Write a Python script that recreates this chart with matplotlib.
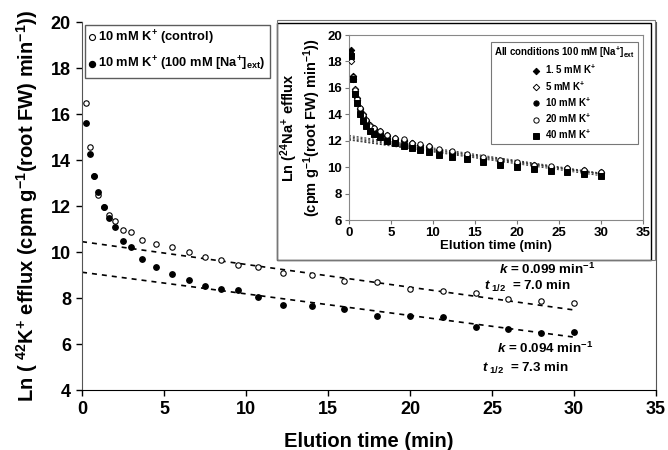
import numpy as np
import matplotlib
matplotlib.use('Agg')
import matplotlib.pyplot as plt
from matplotlib.patches import Rectangle

plt.rcParams['font.family'] = ['Liberation Sans', 'DejaVu Sans']
plt.rcParams['font.weight'] = 'bold'
plt.rcParams['mathtext.fontset'] = 'custom'
plt.rcParams['mathtext.rm'] = 'Liberation Sans:bold'
plt.rcParams['mathtext.bf'] = 'Liberation Sans:bold'
plt.rcParams['mathtext.it'] = 'Liberation Sans:italic:bold'
plt.rcParams['mathtext.default'] = 'rm'

# 数据 (主图)
time = [0.25, 0.5, 0.75, 1.0, 1.33, 1.67, 2.0, 2.5, 3.0, 3.67, 4.5, 5.5, 6.5, 7.5,
        8.5, 9.5, 10.75, 12.25, 14, 16, 18, 20, 22, 24, 26, 28, 30]
control = [16.5, 14.55, 13.3, 12.46, 11.95, 11.59, 11.34, 10.96, 10.87, 10.54, 10.35,
           10.2, 10.02, 9.8, 9.66, 9.45, 9.33, 9.07, 9.0, 8.75, 8.68, 8.39, 8.29, 8.2,
           7.95, 7.88, 7.78]
na_ext = [15.63, 14.28, 13.29, 12.62, 11.95, 11.49, 11.08, 10.47, 10.2, 9.7, 9.33,
          9.04, 8.8, 8.51, 8.39, 8.36, 8.03, 7.69, 7.66, 7.52, 7.23, 7.2, 7.16, 6.72,
          6.67, 6.46, 6.53]
fit_x = [0, 30]
control_fit = [10.45, 7.48]
na_fit = [9.12, 6.30]

# 数据 (插图)
inset_labels = ['1. 5 mM K$^{+}$', '5 mM K$^{+}$', '10 mM K$^{+}$', '20 mM K$^{+}$', '40 mM K$^{+}$']
k1_5 = [18.9, 16.9, 15.8, 15.1, 14.4, 13.9, 13.5, 13.1, 12.85, 12.6, 12.35, 12.1, 12.0,
        11.8, 11.7, 11.6, 11.3, 11.15, 10.9, 10.65, 10.45, 10.25, 10.1, 9.95, 9.85, 9.7, 9.55]
k5 = [18.05, 16.7, 15.9, 15.2, 14.5, 14.0, 13.6, 13.2, 12.95, 12.7, 12.4, 12.2, 12.05,
      11.85, 11.7, 11.5, 11.3, 11.1, 10.95, 10.7, 10.5, 10.3, 10.15, 10.0, 9.9, 9.75, 9.6]
k10 = [18.6, 16.8, 15.6, 15.0, 14.3, 13.8, 13.4, 13.0, 12.8, 12.55, 12.3, 12.1, 11.9,
       11.7, 11.55, 11.45, 11.2, 11.0, 10.8, 10.6, 10.35, 10.2, 10.05, 9.9, 9.75, 9.6, 9.5]
k20 = [18.5, 16.85, 15.85, 15.15, 14.45, 13.95, 13.55, 13.15, 12.95, 12.7, 12.45, 12.2,
       12.1, 11.85, 11.75, 11.6, 11.4, 11.2, 11.0, 10.75, 10.55, 10.4, 10.2, 10.05, 9.95,
       9.75, 9.6]
k40 = [18.4, 16.7, 15.5, 14.85, 14.0, 13.5, 13.1, 12.7, 12.5, 12.25, 12.0, 11.8, 11.6,
       11.45, 11.3, 11.15, 10.95, 10.75, 10.6, 10.4, 10.2, 10.0, 9.85, 9.7, 9.6, 9.45, 9.35]
inset_fit_start = [12.4, 12.3, 12.2, 12.1, 12.05]
inset_fit_end = [9.55, 9.5, 9.5, 9.45, 9.35]

fig = plt.figure(figsize=(6.68, 4.5), dpi=100)
ax = fig.add_axes([0.1228, 0.1333, 0.8593, 0.8178])

ax.plot(time, control, 'o', mfc='white', mec='black', ms=3.9, mew=0.8,
        label='10 mM K$^{+}$ (control)', zorder=3)
ax.plot(time, na_ext, 'o', mfc='black', mec='black', ms=3.9,
        label='10 mM K$^{+}$ (100 mM [Na$^{+}$]$_{\\rm ext}$)', zorder=3)
ax.plot(fit_x, control_fit, color='black', lw=1.2, ls=(0, (3, 3)), zorder=2)
ax.plot(fit_x, na_fit, color='black', lw=1.2, ls=(0, (3, 3)), zorder=2)

ax.set_xlim(0, 35)
ax.set_ylim(4, 20)
ax.set_xticks(range(0, 36, 5))
ax.set_yticks(range(4, 21, 2))
ax.tick_params(labelsize=13, direction='out', length=4, width=1, pad=4)
for lab in ax.get_xticklabels() + ax.get_yticklabels():
    lab.set_fontweight('bold')
ax.spines['top'].set_visible(False)
ax.spines['left'].set_color('#555555')
ax.spines['right'].set_color('#555555')
ax.set_xlabel('Elution time (min)', fontsize=14.5, fontweight='bold', labelpad=10)
ax.set_ylabel('Ln ( $^{42}$K$^{+}$ efflux (cpm g$^{-1}$(root FW) min$^{-1}$))',
              fontsize=14.5, fontweight='bold', labelpad=8)

leg = ax.legend(loc='upper left', bbox_to_anchor=(0.005, 0.993), frameon=True,
                fancybox=False, edgecolor='#333333', fontsize=9.3, handlelength=0.4,
                handletextpad=0.3, borderpad=0.35, labelspacing=0.6, borderaxespad=0,
                markerscale=1.1)
leg.get_frame().set_linewidth(1.0)
for t in leg.get_texts():
    t.set_fontweight('bold')

ax.text(31.3, 9.25, '$\\it{k}$ = 0.099 min$^{-1}$', ha='right', va='center', fontsize=9.6)
ax.text(29.8, 8.5, '$\\it{t}_{\\ \\it{1/2}}$  = 7.0 min', ha='right', va='center', fontsize=9.6)
ax.text(31.2, 5.8, '$\\it{k}$ = 0.094 min$^{-1}$', ha='right', va='center', fontsize=9.6)
ax.text(29.7, 4.95, '$\\it{t}_{\\ \\it{1/2}}$  = 7.3 min', ha='right', va='center', fontsize=9.6)

# 插图外框
fig.patches.append(Rectangle((277 / 668, 1 - 260 / 450), (651 - 277) / 668, (260 - 23) / 450,
                             transform=fig.transFigure, facecolor='white',
                             edgecolor='black', lw=1.0, zorder=1))
fig.patches.append(Rectangle((277 / 668, 1 - 260 / 450), (655 - 277) / 668, (260 - 20) / 450,
                             transform=fig.transFigure, facecolor='none',
                             edgecolor='#777777', lw=0.8, zorder=1))

axin = fig.add_axes([349 / 668, 1 - 220 / 450, (643 - 349) / 668, 185 / 450], zorder=2)
series = [k1_5, k5, k10, k20, k40]
markers = ['D', 'D', 'o', 'o', 's']
faces = ['black', 'white', 'black', 'white', 'black']
sizes = [3.3, 3.3, 3.8, 3.8, 3.8]
for vals, m, fc, s, lab in zip(series, markers, faces, sizes, inset_labels):
    axin.plot(time, vals, m, mfc=fc, mec='black', ms=s, mew=0.7, label=lab, zorder=3)
for y0, y1 in zip(inset_fit_start, inset_fit_end):
    axin.plot(fit_x, [y0, y1], color='#333333', lw=0.7, ls=(0, (2, 2)), zorder=2)

axin.set_xlim(0, 35)
axin.set_ylim(6, 20)
axin.set_xticks(range(0, 36, 5))
axin.set_yticks(range(6, 21, 2))
axin.tick_params(labelsize=9.5, direction='out', length=3, width=0.8, pad=2, color='#777777')
for lab in axin.get_xticklabels() + axin.get_yticklabels():
    lab.set_fontweight('bold')
for sp in axin.spines.values():
    sp.set_color('#888888')
axin.set_xlabel('Elution time (min)', fontsize=9.5, fontweight='bold', labelpad=1)
axin.set_ylabel('Ln ($^{24}$Na$^{+}$ efflux\n(cpm g$^{-1}$(root FW) min$^{-1}$))',
                fontsize=10.5, fontweight='bold', labelpad=3, linespacing=1.1)

leg2 = axin.legend(loc='upper right', bbox_to_anchor=(0.983, 0.962), frameon=True,
                   fancybox=False, edgecolor='#555555', fontsize=7, handlelength=0.6,
                   handletextpad=0.6, borderpad=0.3, labelspacing=0.3, borderaxespad=0,
                   title='All conditions 100 mM [Na$^{+}$]$_{\\rm ext}$',
                   title_fontsize=7)
leg2.get_frame().set_linewidth(0.8)
leg2.get_title().set_fontweight('bold')
for t in leg2.get_texts():
    t.set_fontweight('bold')

fig.savefig('out.png', dpi=100)
